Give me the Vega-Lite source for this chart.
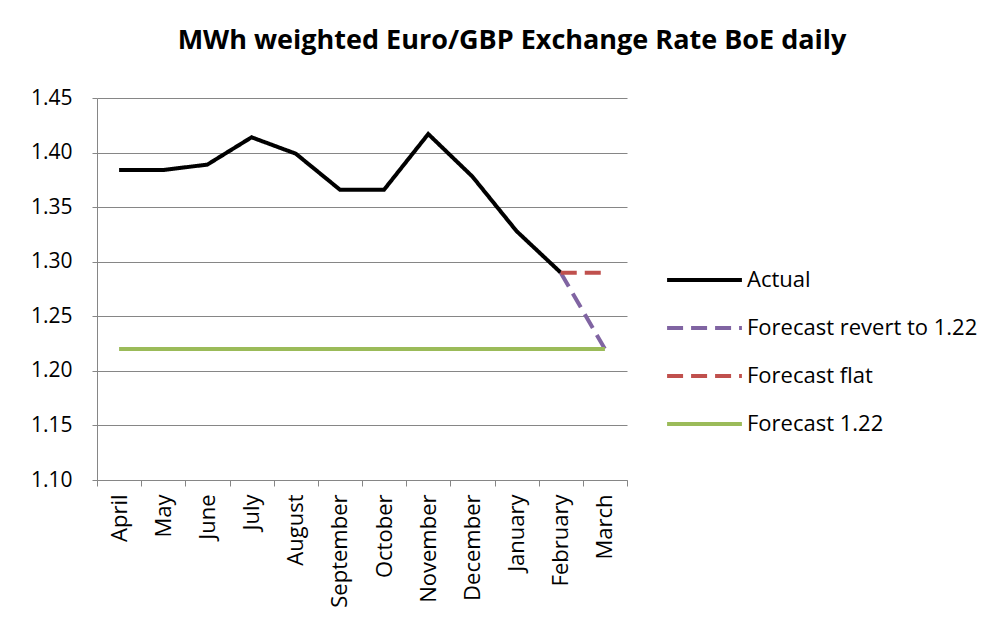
{
  "$schema": "https://vega.github.io/schema/vega-lite/v6.json",
  "width": 530,
  "height": 382,
  "autosize": {"type": "none"},
  "padding": {"left": 97, "top": 98, "right": 380, "bottom": 149},
  "background": "white",
  "title": {
    "text": "MWh weighted Euro/GBP Exchange Rate BoE daily",
    "font": "Open Sans",
    "fontSize": 27,
    "fontWeight": "bold",
    "color": "black",
    "anchor": "middle",
    "dx": 150,
    "offset": 32
  },
  "config": {
    "view": {"stroke": null},
    "font": "Open Sans"
  },
  "data": {
    "values": [
      {"month": "April", "series": "Actual", "value": 1.384},
      {"month": "May", "series": "Actual", "value": 1.384},
      {"month": "June", "series": "Actual", "value": 1.389},
      {"month": "July", "series": "Actual", "value": 1.414},
      {"month": "August", "series": "Actual", "value": 1.399},
      {"month": "September", "series": "Actual", "value": 1.366},
      {"month": "October", "series": "Actual", "value": 1.366},
      {"month": "November", "series": "Actual", "value": 1.417},
      {"month": "December", "series": "Actual", "value": 1.378},
      {"month": "January", "series": "Actual", "value": 1.328},
      {"month": "February", "series": "Actual", "value": 1.290},
      {"month": "February", "series": "Forecast revert to 1.22", "value": 1.290},
      {"month": "March", "series": "Forecast revert to 1.22", "value": 1.22},
      {"month": "February", "series": "Forecast flat", "value": 1.290},
      {"month": "March", "series": "Forecast flat", "value": 1.290},
      {"month": "April", "series": "Forecast 1.22", "value": 1.22},
      {"month": "May", "series": "Forecast 1.22", "value": 1.22},
      {"month": "June", "series": "Forecast 1.22", "value": 1.22},
      {"month": "July", "series": "Forecast 1.22", "value": 1.22},
      {"month": "August", "series": "Forecast 1.22", "value": 1.22},
      {"month": "September", "series": "Forecast 1.22", "value": 1.22},
      {"month": "October", "series": "Forecast 1.22", "value": 1.22},
      {"month": "November", "series": "Forecast 1.22", "value": 1.22},
      {"month": "December", "series": "Forecast 1.22", "value": 1.22},
      {"month": "January", "series": "Forecast 1.22", "value": 1.22},
      {"month": "February", "series": "Forecast 1.22", "value": 1.22},
      {"month": "March", "series": "Forecast 1.22", "value": 1.22}
    ]
  },
  "mark": {"type": "line", "strokeWidth": 4, "strokeCap": "butt"},
  "encoding": {
    "x": {
      "field": "month",
      "type": "nominal",
      "sort": ["April", "May", "June", "July", "August", "September", "October", "November", "December", "January", "February", "March"],
      "scale": {"type": "band", "paddingInner": 0, "paddingOuter": 0},
      "axis": {
        "title": null,
        "labelAngle": -90,
        "labelAlign": "right",
        "labelBaseline": "middle",
        "labelFont": "Open Sans",
        "labelFontSize": 22,
        "labelColor": "black",
        "labelPadding": 8,
        "tickBand": "extent",
        "tickSize": 6,
        "tickColor": "#868686",
        "domainColor": "#868686",
        "grid": false
      }
    },
    "y": {
      "field": "value",
      "type": "quantitative",
      "scale": {"domain": [1.10, 1.45], "zero": false, "nice": false},
      "axis": {
        "title": null,
        "values": [1.10, 1.15, 1.20, 1.25, 1.30, 1.35, 1.40, 1.45],
        "format": ".2f",
        "labelFont": "Open Sans",
        "labelFontSize": 21,
        "labelColor": "black",
        "labelPadding": 20,
        "tickSize": 5,
        "tickColor": "#868686",
        "domainColor": "#868686",
        "grid": true,
        "gridColor": "#868686",
        "gridWidth": 1
      }
    },
    "color": {
      "field": "series",
      "type": "nominal",
      "scale": {
        "domain": ["Actual", "Forecast revert to 1.22", "Forecast flat", "Forecast 1.22"],
        "range": ["#000000", "#8064A2", "#C0504D", "#9BBB59"]
      },
      "legend": {
        "title": null,
        "orient": "none",
        "legendX": 568,
        "legendY": 172,
        "symbolType": "stroke",
        "symbolSize": 5600,
        "symbolStrokeWidth": 4,
        "clipHeight": 20,
        "rowPadding": 26,
        "labelFont": "Open Sans",
        "labelFontSize": 22,
        "labelColor": "black",
        "labelOffset": 3,
        "labelLimit": 400
      }
    },
    "strokeDash": {
      "field": "series",
      "type": "nominal",
      "scale": {
        "domain": ["Actual", "Forecast revert to 1.22", "Forecast flat", "Forecast 1.22"],
        "range": [[1, 0], [16, 8], [16, 8], [1, 0]]
      },
      "legend": {
        "title": null,
        "orient": "none",
        "legendX": 568,
        "legendY": 172,
        "symbolType": "stroke",
        "symbolSize": 5600,
        "symbolStrokeWidth": 4,
        "clipHeight": 20,
        "rowPadding": 26,
        "labelFont": "Open Sans",
        "labelFontSize": 22,
        "labelColor": "black",
        "labelOffset": 3,
        "labelLimit": 400
      }
    }
  }
}
